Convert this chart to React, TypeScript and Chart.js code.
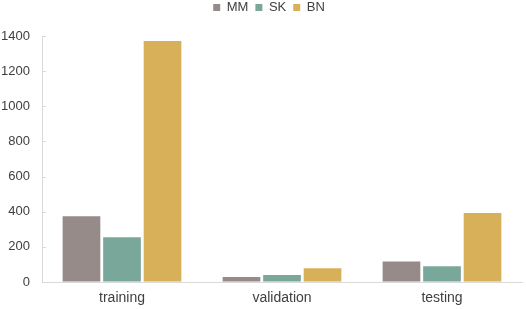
import React, { useEffect, useRef } from "react";
import { Chart, registerables } from "chart.js";

Chart.register(...registerables);

const categories = ["training", "validation", "testing"];
const mmValues = [374, 28, 117];
const skValues = [255, 40, 89];
const bnValues = [1371, 78, 393];
const yMax = 1400;
const yStep = 200;

const AXIS_COLOR = "#d9d9d9";
const TEXT_COLOR = "#404040";
const FONT = "'Liberation Sans', Arial, sans-serif";

const innerTicks = {
  id: "innerTicks",
  afterDraw(chart: any) {
    const y = chart.scales.y;
    const ctx = chart.ctx;
    ctx.save();
    ctx.strokeStyle = AXIS_COLOR;
    ctx.lineWidth = 1;
    y.ticks.forEach((t: any) => {
      const py = Math.round(y.getPixelForValue(t.value)) + 0.5;
      ctx.beginPath();
      ctx.moveTo(y.right, py);
      ctx.lineTo(y.right + 4, py);
      ctx.stroke();
    });
    ctx.restore();
  },
};

const legendSpace = {
  id: "legendSpace",
  beforeLayout(chart: any) {
    const lg = chart.legend;
    if (lg && !lg.__wrapped) {
      const orig = lg.fit.bind(lg);
      lg.fit = () => {
        orig();
        lg.height += 12;
      };
      lg.__wrapped = true;
    }
  },
  afterLayout(chart: any) {
    const lg = chart.legend;
    if (lg) {
      lg.left += 8;
      lg.right += 8;
    }
  },
};

export default function App() {
  const ref = useRef<HTMLCanvasElement>(null);
  useEffect(() => {
    if (!ref.current) return;
    const chart = new Chart(ref.current, {
      type: "bar",
      data: {
        labels: categories,
        datasets: [
          { label: "MM", data: mmValues, backgroundColor: "#968b88" },
          { label: "SK", data: skValues, backgroundColor: "#79a89a" },
          { label: "BN", data: bnValues, backgroundColor: "#d8b05a" },
        ],
      },
      options: {
        animation: false,
        responsive: false,
        maintainAspectRatio: false,
        layout: { padding: { top: -6, right: 4, bottom: 0, left: 0 } },
        datasets: { bar: { categoryPercentage: 0.76, barPercentage: 0.93 } },
        plugins: {
          tooltip: { enabled: false },
          legend: {
            position: "top",
            labels: {
              boxWidth: 7,
              boxHeight: 7,
              padding: 7,
              color: TEXT_COLOR,
              font: { family: FONT, size: 13 },
            },
          },
        },
        scales: {
          x: {
            grid: { display: false, drawTicks: false },
            border: { color: AXIS_COLOR },
            ticks: { color: TEXT_COLOR, font: { family: FONT, size: 14 }, padding: 8 },
            afterFit(scale: any) {
              scale.height = 27;
            },
          },
          y: {
            min: 0,
            max: yMax,
            ticks: {
              stepSize: yStep,
              color: TEXT_COLOR,
              font: { family: FONT, size: 13 },
              padding: 12,
              callback: (v: any) => String(v),
            },
            grid: { drawOnChartArea: false, drawTicks: false },
            border: { color: AXIS_COLOR },
            afterFit(scale: any) {
              scale.width = 42;
            },
          },
        },
      },
      plugins: [innerTicks, legendSpace],
    });
    return () => chart.destroy();
  }, []);
  return (
    <div style={{ position: "fixed", left: 0, top: 0, width: 526, height: 309, background: "#fff" }}>
      <canvas ref={ref} width={526} height={309} />
    </div>
  );
}
